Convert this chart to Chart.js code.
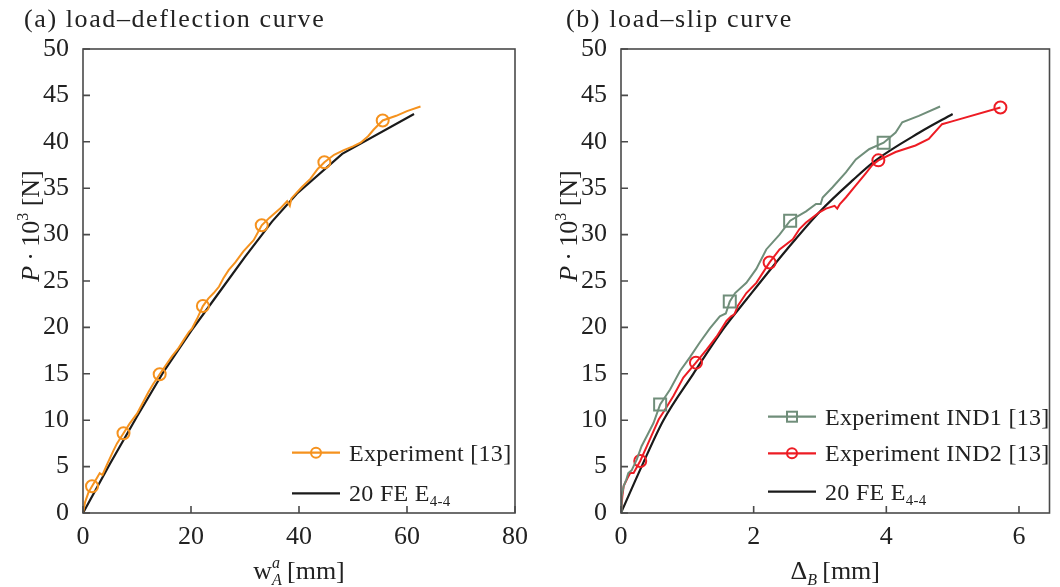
<!DOCTYPE html>
<html>
<head>
<meta charset="utf-8">
<script src="https://cdn.jsdelivr.net/npm/chart.js@4.4.1/dist/chart.umd.min.js"></script>
<style>
  body { margin: 0; background: #fff; }
  #wrap { position: relative; width: 1060px; height: 587px; }
  canvas { position: absolute; top: 0; }
</style>
</head>
<body>
<div id="wrap">
  <canvas id="chartA" width="530" height="587" style="left:0"></canvas>
  <canvas id="chartB" width="530" height="587" style="left:530px"></canvas>
</div>
<script>
// (a) load-deflection, experiment
const deflExpX = [0, 0.4, 1.0, 1.67, 2.6, 3.1, 3.6, 4.5, 5.7, 6.3, 7.5, 8.6, 10.0, 11.1, 12.1, 13.0, 14.2, 15.3, 16.5, 17.6, 18.6, 19.6, 20.2, 21.1, 22.2, 23.2, 24.2, 25.2, 26.0, 27.0, 28.2, 29.7, 31.6, 33.1, 34.5, 36.5, 37.8, 38.3, 38.6, 40.5, 42.1, 43.5, 44.7, 46.5, 48.3, 50.0, 51.4, 52.8, 53.8, 55.5, 58.0, 60.0, 62.5];
const deflExpY = [0, 1.2, 2.2, 2.88, 3.8, 4.3, 4.1, 5.3, 6.8, 7.5, 8.6, 9.6, 10.7, 11.9, 13.0, 13.9, 14.95, 15.9, 16.9, 17.7, 18.6, 19.5, 19.9, 20.9, 22.3, 23.1, 23.7, 24.4, 25.3, 26.2, 27.0, 28.2, 29.4, 31.0, 31.8, 32.8, 33.6, 33.1, 33.9, 35.1, 36.0, 37.1, 37.8, 38.6, 39.1, 39.5, 39.9, 40.6, 41.3, 42.3, 42.8, 43.3, 43.8];
const deflMarkX = [1.67, 7.5, 14.2, 22.2, 33.1, 44.7, 55.5];
const deflMarkY = [2.88, 8.6, 14.95, 22.3, 31.0, 37.8, 42.3];
// (a) load-deflection, 20 FE
const deflFeX = [0, 5, 10, 15, 20, 25, 30, 35, 39.6, 48, 61.3];
const deflFeY = [0, 5.3, 10.4, 15.3, 19.6, 23.6, 27.6, 31.4, 34.4, 38.7, 43.0];

// (b) load-slip, experiment IND1
const slip1X = [0, 0.01, 0.04, 0.08, 0.11, 0.16, 0.24, 0.31, 0.39, 0.49, 0.59, 0.74, 0.89, 1.04, 1.19, 1.34, 1.49, 1.58, 1.64, 1.72, 1.89, 2.04, 2.19, 2.39, 2.55, 2.79, 2.94, 3.01, 3.04, 3.19, 3.39, 3.54, 3.74, 3.96, 4.14, 4.24, 4.49, 4.81];
const slip1Y = [0, 1.8, 2.9, 3.6, 4.3, 4.6, 5.8, 7.2, 8.3, 9.7, 11.7, 13.3, 15.3, 16.8, 18.4, 19.9, 21.2, 21.5, 22.8, 23.7, 24.8, 26.3, 28.4, 30.0, 31.5, 32.5, 33.3, 33.3, 34.0, 35.1, 36.7, 38.1, 39.2, 39.9, 41.0, 42.1, 42.8, 43.8];
const slip1MarkX = [0.59, 1.64, 2.55, 3.96];
const slip1MarkY = [11.7, 22.8, 31.5, 39.9];
// (b) load-slip, experiment IND2
const slip2X = [0, 0.02, 0.04, 0.1, 0.14, 0.19, 0.29, 0.39, 0.47, 0.57, 0.66, 0.79, 0.94, 1.13, 1.29, 1.44, 1.59, 1.66, 1.71, 1.76, 1.89, 2.04, 2.24, 2.39, 2.59, 2.69, 2.79, 2.99, 3.09, 3.22, 3.26, 3.30, 3.39, 3.54, 3.69, 3.79, 3.88, 4.14, 4.44, 4.64, 4.84, 4.99, 5.72];
const slip2Y = [0, 1.8, 2.9, 3.8, 4.3, 4.3, 5.6, 7.2, 8.5, 10.1, 11.1, 12.6, 14.6, 16.2, 17.6, 19.0, 20.7, 21.2, 21.4, 22.3, 23.7, 24.8, 27.0, 28.4, 29.5, 30.6, 31.3, 32.4, 32.8, 33.1, 32.8, 33.3, 34.0, 35.3, 36.6, 37.5, 38.0, 38.9, 39.6, 40.3, 41.9, 42.2, 43.7];
const slip2MarkX = [0.29, 1.13, 2.24, 3.88, 5.72];
const slip2MarkY = [5.6, 16.2, 27.0, 38.0, 43.7];
// (b) load-slip, 20 FE
const slipFeX = [0, 0.31, 0.64, 1.09, 1.56, 1.89, 2.5, 3.0, 3.5, 3.84, 4.5, 5.0];
const slipFeY = [0, 5, 10, 15, 20, 23, 28.4, 32.5, 35.9, 38.0, 41.0, 43.0];

// axis ticks
const loadTicks = [0, 5, 10, 15, 20, 25, 30, 35, 40, 45, 50];
const deflTicks = [0, 20, 40, 60, 80];
const slipTicks = [0, 2, 4, 6];

const SERIF = '"Liberation Serif", "DejaVu Serif", serif';
const INK = '#222';
const ORANGE = 'rgb(245,146,30)';
const RED = 'rgb(237,28,36)';
const GREEN = 'rgb(112,142,122)';
const BLACK = '#1a1a1a';

const pts = (xs, ys) => xs.map((x, i) => ({ x: x, y: ys[i] }));

const curve = (xs, ys, color, w, smooth) => ({
  data: pts(xs, ys),
  borderColor: color,
  borderWidth: w,
  pointRadius: 0,
  tension: smooth ? 0.4 : 0,
  cubicInterpolationMode: smooth ? 'monotone' : 'default',
});

const markers = (xs, ys, color, style, r) => ({
  data: pts(xs, ys),
  showLine: false,
  pointStyle: style,
  pointRadius: r,
  borderWidth: 2,
  borderColor: color,
  backgroundColor: 'rgba(0,0,0,0)',
});

// text with sub/superscripts, parts = [{t, s, i, dy}] or {sup, sub}
function rich(ctx, parts, x, y, align) {
  const fontOf = p => (p.i ? 'italic ' : '') + p.s + 'px ' + SERIF;
  const widthOf = p => {
    ctx.font = fontOf(p);
    if (p.sup !== undefined) return Math.max(ctx.measureText(p.sup).width, ctx.measureText(p.sub).width);
    return ctx.measureText(p.t).width;
  };
  let w = 0;
  parts.forEach(p => { w += widthOf(p); });
  let cx = align === 'center' ? x - w / 2 : x;
  ctx.textAlign = 'left';
  ctx.textBaseline = 'alphabetic';
  parts.forEach(p => {
    const pw = widthOf(p);
    ctx.font = fontOf(p);
    if (p.sup !== undefined) {
      ctx.fillText(p.sup, cx, y - 11);
      ctx.fillText(p.sub, cx, y + 6);
    } else {
      ctx.fillText(p.t, cx, y + (p.dy || 0));
    }
    cx += pw;
  });
}

// frame, inward ticks, panel title, axis titles and legend
const decor = {
  id: 'decor',
  afterDraw(chart, args, o) {
    const { ctx, chartArea: a, scales: { x, y } } = chart;
    ctx.save();
    ctx.strokeStyle = '#4a4a4a';
    ctx.lineWidth = 1.6;
    ctx.strokeRect(a.left, a.top, a.right - a.left, a.bottom - a.top);
    ctx.beginPath();
    x.ticks.forEach(t => {
      const px = x.getPixelForValue(t.value);
      ctx.moveTo(px, a.bottom);
      ctx.lineTo(px, a.bottom - 7);
    });
    y.ticks.forEach(t => {
      const py = y.getPixelForValue(t.value);
      ctx.moveTo(a.left, py);
      ctx.lineTo(a.left + 7, py);
    });
    ctx.stroke();

    ctx.fillStyle = INK;
    ctx.letterSpacing = '1.6px';
    rich(ctx, [{ t: o.title, s: 26 }], o.titleX, 27, 'left');
    ctx.letterSpacing = '0px';

    rich(ctx, o.xTitle, (a.left + a.right) / 2, 579, 'center');

    ctx.save();
    ctx.translate(o.yTitleX, 226);
    ctx.rotate(-Math.PI / 2);
    rich(ctx, o.yTitle, 0, 9, 'center');
    ctx.restore();

    const lg = o.legend;
    lg.items.forEach((it, i) => {
      const ly = lg.rows[i];
      ctx.strokeStyle = it.color;
      ctx.lineWidth = 2.2;
      ctx.beginPath();
      ctx.moveTo(lg.x, ly);
      ctx.lineTo(lg.x + 48, ly);
      ctx.stroke();
      const mx = lg.x + 24;
      ctx.lineWidth = 2;
      if (it.marker === 'circle') {
        ctx.beginPath();
        ctx.arc(mx, ly, 5, 0, Math.PI * 2);
        ctx.stroke();
      } else if (it.marker === 'rect') {
        ctx.strokeRect(mx - 5, ly - 5, 10, 10);
      }
      ctx.fillStyle = INK;
      ctx.letterSpacing = '0.3px';
      rich(ctx, it.parts, lg.x + 57, ly + 8, 'left');
      ctx.letterSpacing = '0px';
    });
    ctx.restore();
  }
};

const tickFont = { family: SERIF, size: 26 };

function makeChart(id, datasets, xMax, xTicks, rightPad, yWidth, decorOpts) {
  return new Chart(document.getElementById(id), {
    type: 'line',
    data: { datasets: datasets },
    options: {
      responsive: false,
      animation: false,
      layout: { padding: { left: 0, right: rightPad, top: 49, bottom: 0 } },
      plugins: { legend: { display: false }, tooltip: { enabled: false }, decor: decorOpts },
      scales: {
        x: {
          type: 'linear', min: 0, max: xMax,
          afterBuildTicks: s => { s.ticks = xTicks.map(v => ({ value: v })); },
          afterFit: s => { s.height = 74; },
          ticks: { font: tickFont, color: INK, padding: 1, autoSkip: false, maxRotation: 0 },
          grid: { display: false }, border: { display: false },
        },
        y: {
          type: 'linear', min: 0, max: 50,
          afterBuildTicks: s => { s.ticks = loadTicks.map(v => ({ value: v })); },
          afterFit: s => { s.width = yWidth; },
          ticks: { font: tickFont, color: INK, padding: 6, autoSkip: false },
          grid: { display: false }, border: { display: false },
        }
      }
    },
    plugins: [decor]
  });
}

const yTitle = [
  { t: 'P', s: 26, i: true },
  { t: '\u2009\u00b7\u2009', s: 26 },
  { t: '10', s: 26 },
  { t: '3', s: 16, dy: -11 },
  { t: ' [N]', s: 26 },
];
const feLabel = [{ t: '20 FE E', s: 24 }, { t: '4-4', s: 15, dy: 5 }];

makeChart('chartA', [
  curve(deflExpX, deflExpY, ORANGE, 2, false),
  markers(deflMarkX, deflMarkY, ORANGE, 'circle', 6),
  curve(deflFeX, deflFeY, BLACK, 2.2, false),
], 80, deflTicks, 15, 83, {
  title: '(a) load\u2013deflection curve',
  titleX: 24,
  xTitle: [{ t: 'w', s: 26 }, { sup: 'a', sub: 'A', s: 16, i: true }, { t: '\u2009[mm]', s: 26 }],
  yTitle: yTitle,
  yTitleX: 30,
  legend: {
    x: 292, rows: [452.7, 493.3],
    items: [
      { color: ORANGE, marker: 'circle', parts: [{ t: 'Experiment [13]', s: 24 }] },
      { color: BLACK, marker: null, parts: feLabel },
    ]
  }
});

makeChart('chartB', [
  curve(slip1X, slip1Y, GREEN, 2, false),
  markers(slip1MarkX, slip1MarkY, GREEN, 'rect', 8.5),
  curve(slip2X, slip2Y, RED, 2, false),
  markers(slip2MarkX, slip2MarkY, RED, 'circle', 6),
  curve(slipFeX, slipFeY, BLACK, 2.2, true),
], 6.46, slipTicks, 8, 91, {
  title: '(b) load\u2013slip curve',
  titleX: 36,
  xTitle: [{ t: '\u0394', s: 26 }, { t: 'B', s: 16, i: true, dy: 6 }, { t: '\u2009[mm]', s: 26 }],
  yTitle: yTitle,
  yTitleX: 38,
  legend: {
    x: 238, rows: [416.7, 453.3, 491.7],
    items: [
      { color: GREEN, marker: 'rect', parts: [{ t: 'Experiment IND1 [13]', s: 24 }] },
      { color: RED, marker: 'circle', parts: [{ t: 'Experiment IND2 [13]', s: 24 }] },
      { color: BLACK, marker: null, parts: feLabel },
    ]
  }
});
</script>
</body>
</html>
